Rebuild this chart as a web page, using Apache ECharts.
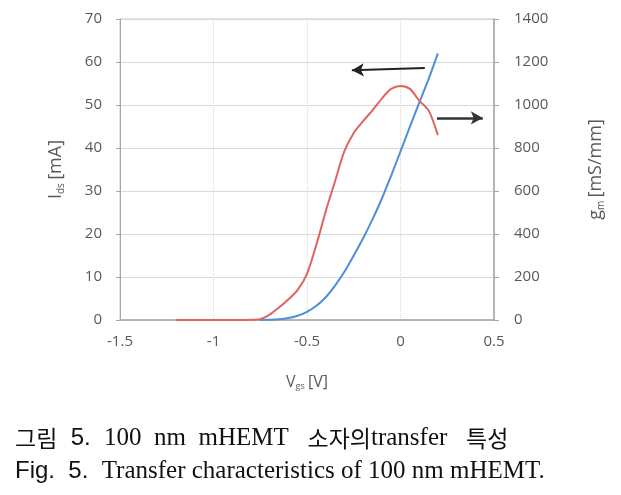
<!DOCTYPE html>
<html>
<head>
<meta charset="utf-8">
<script src="https://cdn.jsdelivr.net/npm/echarts@6/dist/echarts.min.js"></script>
<style>
  html, body { margin: 0; padding: 0; background: #fff; }
  #chart { width: 621px; height: 495px; }
</style>
</head>
<body>
<div id="chart"></div>
<script>
// gate voltage sweep (V)
const vgsIds = [-0.75, -0.7, -0.65, -0.6, -0.55, -0.5, -0.45, -0.4, -0.35, -0.3, -0.25, -0.2, -0.15, -0.1, -0.05, 0, 0.05, 0.1, 0.15, 0.2]
const idsValues = [0, 0.03, 0.15, 0.45, 1.0, 1.9, 3.3, 5.3, 8.0, 11.2, 15.0, 19.0, 23.4, 28.2, 33.6, 39.2, 44.9, 50.5, 56.0, 62.0]

const vgsGm = [-1.2, -1.15, -1.1, -1.05, -1.0, -0.95, -0.9, -0.85, -0.8, -0.75, -0.7, -0.65, -0.6, -0.55, -0.5, -0.45, -0.4, -0.35, -0.3, -0.25, -0.2, -0.15, -0.1, -0.05, 0, 0.05, 0.1, 0.15, 0.2]
const gmValues = [0, 0, 0, 0, 0, 0, 0, 0, 1, 4, 25, 58, 95, 140, 215, 350, 505, 645, 785, 870, 925, 975, 1030, 1075, 1088, 1075, 1020, 975, 860]

const xTicks = { min: -1.5, max: 0.5, interval: 0.5 }
const idsTicks = { min: 0, max: 70, interval: 10 }
const gmTicks = { min: 0, max: 1400, interval: 200 }

const grayText = '#595959'
const tickFont = 'Open Sans'

const chart = echarts.init(document.getElementById('chart'))

const captionRich = {
    k: { fontFamily: 'Noto Sans CJK KR', fontSize: 23, fontWeight: 'normal', color: '#111' },
    a: { fontFamily: 'Liberation Sans', fontSize: 24, fontWeight: 'normal', color: '#111' },
    s: { fontFamily: 'Liberation Serif', fontSize: 25, fontWeight: 'normal', color: '#111' }
}

chart.setOption({
    animation: false,
    backgroundColor: '#fff',
    title: [
        {
            left: 10,
            top: 421,
            text: '{k|그림}{a|  5.  }{s|100  nm  mHEMT   }{k|소자의}{s|transfer   }{k|특성}',
            textStyle: { fontWeight: 'normal', rich: captionRich }
        },
        {
            left: 10,
            top: 454,
            text: '{a|Fig.  5.  }{s|Transfer characteristics of 100 nm mHEMT.}',
            textStyle: { fontWeight: 'normal', rich: captionRich }
        }
    ],
    grid: {
        left: 120,
        right: 127,
        top: 19,
        bottom: 175,
        show: true,
        borderColor: '#c8c8c8',
        borderWidth: 1
    },
    xAxis: {
        type: 'value',
        min: xTicks.min,
        max: xTicks.max,
        interval: xTicks.interval,
        name: '{v|V}{sub|gs} {v|[V]}',
        nameLocation: 'middle',
        nameGap: 54,
        nameTextStyle: {
            rich: {
                v: { fontFamily: tickFont, fontSize: 16, color: grayText },
                sub: { fontFamily: tickFont, fontSize: 9, color: grayText, verticalAlign: 'bottom', padding: [8, 0, 0, 0] }
            }
        },
        axisLine: { lineStyle: { color: '#a6a6a6', width: 1.5 } },
        axisTick: { show: false },
        axisLabel: { color: grayText, fontFamily: tickFont, fontSize: 15, margin: 14 },
        splitLine: { show: true, lineStyle: { color: '#d9d9d9', type: 'dotted' } }
    },
    yAxis: [
        {
            type: 'value',
            position: 'left',
            min: idsTicks.min,
            max: idsTicks.max,
            interval: idsTicks.interval,
            name: '{v|I}{sub|ds} {v|[mA]}',
            nameLocation: 'middle',
            nameGap: 54,
            nameRotate: 90,
            nameTextStyle: {
                rich: {
                    v: { fontFamily: tickFont, fontSize: 18, color: grayText },
                    sub: { fontFamily: tickFont, fontSize: 10, color: grayText, padding: [10, 0, 0, 0] }
                }
            },
            axisLine: { show: true, onZero: false, lineStyle: { color: '#a6a6a6' } },
            axisTick: { show: true, length: 4, lineStyle: { color: '#a6a6a6' } },
            axisLabel: { color: grayText, fontFamily: tickFont, fontSize: 15, margin: 18 },
            splitLine: { show: true, lineStyle: { color: '#d9d9d9' } }
        },
        {
            type: 'value',
            position: 'right',
            min: gmTicks.min,
            max: gmTicks.max,
            interval: gmTicks.interval,
            name: '{v|g}{sub|m} {v|[mS/mm]}',
            nameLocation: 'middle',
            nameGap: 92,
            nameRotate: 90,
            nameTextStyle: {
                rich: {
                    v: { fontFamily: tickFont, fontSize: 18, color: grayText },
                    sub: { fontFamily: tickFont, fontSize: 10, color: grayText, padding: [10, 0, 0, 0] }
                }
            },
            axisLine: { show: true, onZero: false, lineStyle: { color: '#a6a6a6', width: 1.5 } },
            axisTick: { show: true, length: 5, lineStyle: { color: '#a6a6a6' } },
            axisLabel: {
                color: grayText, fontFamily: tickFont, fontSize: 15, margin: 20,
                formatter: (v) => String(v)
            },
            splitLine: { show: false }
        }
    ],
    series: [
        {
            name: 'Ids',
            type: 'line',
            yAxisIndex: 0,
            symbol: 'none',
            smooth: 0.3,
            lineStyle: { color: '#4f8fd9', width: 2 },
            data: vgsIds.map((v, i) => [v, idsValues[i]]),
            markLine: {
                silent: true,
                symbol: ['none', 'arrow'],
                symbolSize: [10, 12],
                label: { show: false },
                lineStyle: { color: '#222', width: 2, type: 'solid' },
                data: [[{ coord: [0.13, 58.6] }, { coord: [-0.26, 58.1] }]]
            }
        },
        {
            name: 'gm',
            type: 'line',
            yAxisIndex: 1,
            symbol: 'none',
            smooth: 0.3,
            lineStyle: { color: '#de6461', width: 2 },
            data: vgsGm.map((v, i) => [v, gmValues[i]]),
            markLine: {
                silent: true,
                symbol: ['none', 'arrow'],
                symbolSize: [10, 12],
                label: { show: false },
                lineStyle: { color: '#333', width: 2.5, type: 'solid' },
                data: [[{ coord: [0.195, 940] }, { coord: [0.44, 940] }]]
            }
        }
    ]
})
</script>
</body>
</html>
